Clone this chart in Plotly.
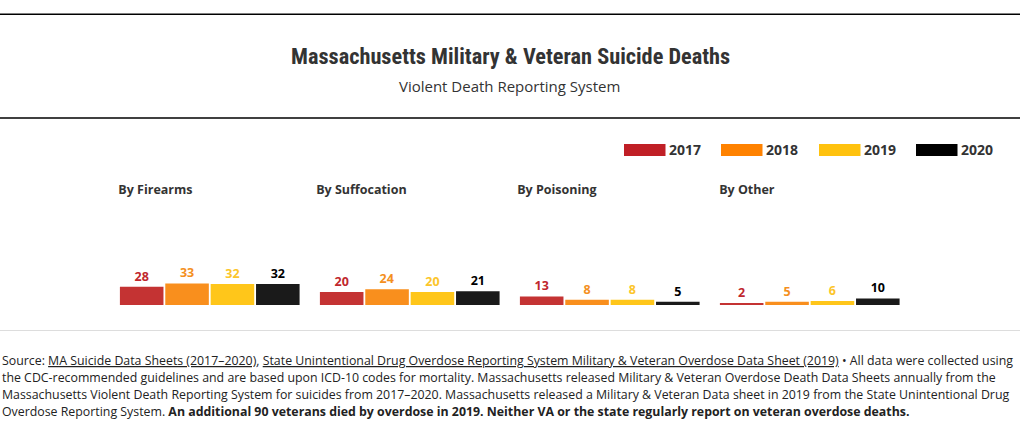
import plotly.graph_objects as go

W, H = 1020, 438

categories = ["By Firearms", "By Suffocation", "By Poisoning", "By Other"]
years = ["2017", "2018", "2019", "2020"]
v2017 = [28, 20, 13, 2]
v2018 = [33, 24, 8, 5]
v2019 = [32, 20, 8, 6]
v2020 = [32, 21, 5, 10]
values_by_year = [v2017, v2018, v2019, v2020]

bar_colors = ["#c43333", "#f98f1d", "#ffc61a", "#1a1a1a"]
legend_colors = ["#c01f26", "#ff8200", "#ffc20e", "#000000"]
label_colors = ["#c0272d", "#f4901e", "#fcc52a", "#000000"]

title = "Massachusetts Military &amp; Veteran Suicide Deaths"
subtitle = "Violent Death Reporting System"

BODY = "Source Sans Pro, Source Sans 3, Lato, Noto Sans, sans-serif"
TITLE_FONT = "Roboto Condensed, Liberation Sans Narrow, Roboto, sans-serif"


def px(xp):
    return xp / W


def py(yp):
    return 1 - yp / H


fig = go.Figure()

panel_left = [119, 319, 519, 719]
panel_w = 181.5
base_y = 305
top_y = 200
scale = 0.655  # px per unit
ymax = (base_y - top_y) / scale

layout_axes = {}
for i, cat in enumerate(categories):
    sfx = "" if i == 0 else str(i + 1)
    vals = [values_by_year[k][i] for k in range(4)]
    fig.add_trace(go.Bar(
        x=years, y=vals,
        xaxis="x" + sfx, yaxis="y" + sfx,
        marker=dict(color=bar_colors, line=dict(width=0)),
        text=[str(v) for v in vals],
        textposition="outside",
        textfont=dict(family=BODY, size=12.5, color=label_colors, weight="bold"),
        cliponaxis=False,
        hoverinfo="skip",
        showlegend=False,
    ))
    layout_axes["xaxis" + sfx] = dict(
        domain=[px(panel_left[i]), px(panel_left[i] + panel_w)],
        anchor="y" + sfx, visible=False, range=[-0.5, 3.5], fixedrange=True,
    )
    layout_axes["yaxis" + sfx] = dict(
        domain=[py(base_y), py(top_y)],
        anchor="x" + sfx, visible=False, range=[0, ymax], fixedrange=True,
    )

annotations = [
    dict(text="<b>" + title + "</b>", x=0.5, y=py(56), xref="paper", yref="paper",
         xanchor="center", yanchor="middle", showarrow=False,
         font=dict(family=TITLE_FONT, size=22.3, color="#333333")),
    dict(text=subtitle, x=0.5, y=py(87), xref="paper", yref="paper",
         xanchor="center", yanchor="middle", showarrow=False,
         font=dict(family=BODY, size=15, color="#333333")),
]
for i, cat in enumerate(categories):
    annotations.append(dict(
        text="<b>" + cat + "</b>", x=px(panel_left[i] + 1), y=py(190),
        xref="paper", yref="paper", xanchor="left", yanchor="middle",
        showarrow=False, font=dict(family=BODY, size=12.5, color="#333333")))

legend_swatch_x = [624, 721, 819, 916]
shapes = []
for k, yr in enumerate(years):
    x0 = legend_swatch_x[k]
    shapes.append(dict(type="rect", xref="paper", yref="paper",
                       x0=px(x0), x1=px(x0 + 41.5), y0=py(156), y1=py(144),
                       fillcolor=legend_colors[k], line=dict(width=0)))
    annotations.append(dict(
        text="<b>" + yr + "</b>", x=px(x0 + 45), y=py(150),
        xref="paper", yref="paper", xanchor="left", yanchor="middle",
        showarrow=False, font=dict(family=BODY, size=14, color="#333333")))

shapes += [
    dict(type="line", xref="paper", yref="paper", x0=0, x1=1, y0=py(14.3), y1=py(14.3),
         line=dict(color="#000000", width=1.5)),
    dict(type="line", xref="paper", yref="paper", x0=0, x1=1, y0=py(118), y1=py(118),
         line=dict(color="#000000", width=1.3)),
    dict(type="line", xref="paper", yref="paper", x0=0, x1=1, y0=py(330.5), y1=py(330.5),
         line=dict(color="#dddddd", width=1)),
]

U = '<span style="text-decoration:underline">'
source_lines = [
    "Source: " + U + "MA Suicide Data Sheets (2017–2020)</span>, " + U +
    "State Unintentional Drug Overdose Reporting System Military &amp; Veteran Overdose Data Sheet (2019)</span>"
    " • All data were collected using",
    "the CDC-recommended guidelines and are based upon ICD-10 codes for mortality. Massachusetts released Military &amp; Veteran Overdose Death Data Sheets annually from the",
    "Massachusetts Violent Death Reporting System for suicides from 2017–2020. Massachusetts released a Military &amp; Veteran Data sheet in 2019 from the State Unintentional Drug",
    "Overdose Reporting System. <b>An additional 90 veterans died by overdose in 2019. Neither VA or the state regularly report on veteran overdose deaths.</b>",
]
for k, line in enumerate(source_lines):
    annotations.append(dict(
        text=line, x=0, y=py(361 + 17 * k), xref="paper", yref="paper",
        xanchor="left", yanchor="middle", align="left", showarrow=False,
        font=dict(family=BODY, size=12.35, color="#222222")))

fig.update_layout(
    width=W, height=H,
    margin=dict(l=0, r=0, t=0, b=0),
    paper_bgcolor="white", plot_bgcolor="white",
    bargap=0.04,
    annotations=annotations,
    shapes=shapes,
    showlegend=False,
    **layout_axes,
)

fig.write_html("out.html", config={"displayModeBar": False})
